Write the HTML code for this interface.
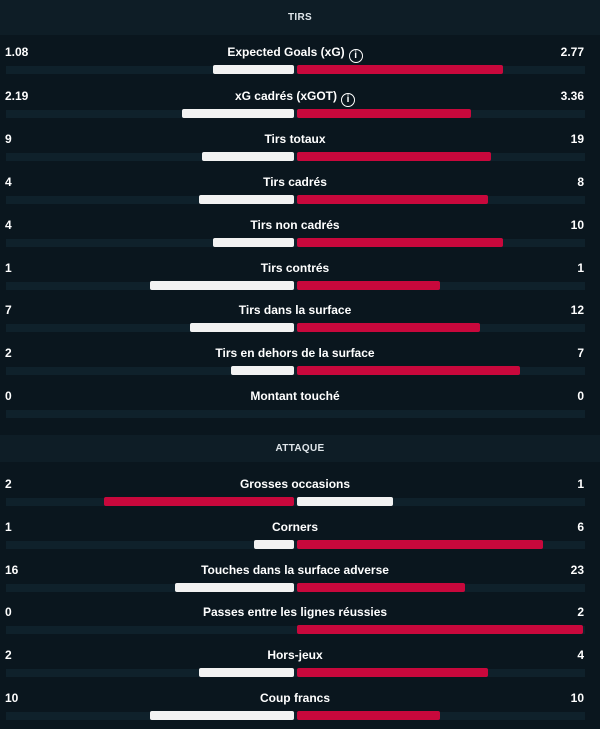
<!DOCTYPE html>
<html><head><meta charset="utf-8"><style>
body{margin:0;width:600px;height:729px;background:#0a161e;font-family:"Liberation Sans",sans-serif;color:#fff;position:relative;overflow:hidden}
.h{position:absolute;left:0;width:600px;background:#0e1d26;text-align:center;font-size:10px;font-weight:bold;color:#dfe6ea;letter-spacing:.3px}
.t{position:absolute;font-size:12px;font-weight:bold;white-space:nowrap}
.tr{position:absolute;left:6px;width:579px;height:8px;background:#0f212b}
.b{position:absolute;height:9px;border-radius:2px}
.w{background:#f2f2f2}.r{background:#c8083c}
.i{display:inline-block;width:12px;height:12px;border:1.3px solid #fff;border-radius:50%;font-size:10px;line-height:12px;text-align:center;vertical-align:-2px;margin-left:4px;box-sizing:content-box}
</style></head><body>
<div class="h" style="top:0;height:35px;line-height:35px">TIRS</div>
<div class="h" style="top:435px;height:27px;line-height:27px">ATTAQUE</div>
<div id="c"></div>
<script>
var rows=[
[52,"1.08","Expected Goals (xG)","2.77",213,503,0,1],
[96,"2.19","xG cadrés (xGOT)","3.36",182,471,0,1],
[139,"9","Tirs totaux","19",202,491,0,0],
[182,"4","Tirs cadrés","8",199,488,0,0],
[225,"4","Tirs non cadrés","10",213,503,0,0],
[268,"1","Tirs contrés","1",150,440,0,0],
[310,"7","Tirs dans la surface","12",190,480,0,0],
[353,"2","Tirs en dehors de la surface","7",231,520,0,0],
[396,"0","Montant touché","0",295,297,0,0],
[484,"2","Grosses occasions","1",104,393,1,0],
[527,"1","Corners","6",254,543,0,0],
[570,"16","Touches dans la surface adverse","23",175,465,0,0],
[612,"0","Passes entre les lignes réussies","2",295,583,0,0],
[655,"2","Hors-jeux","4",199,488,0,0],
[698,"10","Coup francs","10",150,440,0,0]];
var h="";
rows.forEach(function(r){
var y=r[0]-7;
h+='<div class="t" style="left:5px;top:'+y+'px">'+r[1]+'</div>';
h+='<div class="t" style="right:16px;top:'+y+'px">'+r[3]+'</div>';
h+='<div class="t" style="left:0;width:590px;text-align:center;top:'+y+'px">'+r[2]+(r[7]?'<span class="i">i</span>':'')+'</div>';
var by=r[0]+13;
h+='<div class="tr" style="top:'+(by+0.5)+'px"></div>';
var lc=r[6]?'r':'w',rc=r[6]?'w':'r';
if(r[4]<294)h+='<div class="b '+lc+'" style="top:'+by+'px;left:'+r[4]+'px;width:'+(294-r[4])+'px"></div>';
if(r[5]>298)h+='<div class="b '+rc+'" style="top:'+by+'px;left:297px;width:'+(r[5]-297)+'px"></div>';
});
document.getElementById("c").innerHTML=h;
</script>
</body></html>
